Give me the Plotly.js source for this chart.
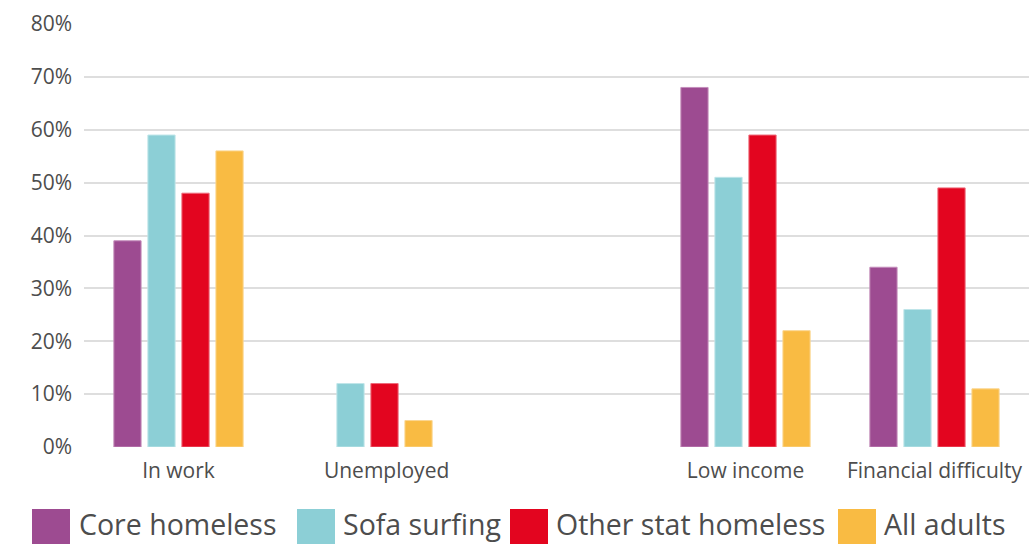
<!DOCTYPE html>
<html>
<head>
<meta charset="utf-8">
<script src="https://cdn.plot.ly/plotly-3.0.1.min.js"></script>
<style>
  html, body { margin: 0; padding: 0; background: #fff; }
  #chart { width: 1032px; height: 544px; }
</style>
</head>
<body>
<div id="chart"></div>
<script>
// Categories (a blank slot separates employment status from income measures)
const categories = ["In work", "Unemployed", "gap", "Low income", "Financial difficulty"];
const tickLabels = ["In work", "\u00a0\u00a0\u00a0\u00a0\u00a0\u00a0\u00a0Unemployed", "", "Low income", "Financial difficulty"];

const seriesNames = ["Core homeless", "Sofa surfing", "Other stat homeless", "All adults"];
const coreHomeless = [39, null, null, 68, 34];
const sofaSurfing = [59, 12, null, 51, 26];
const otherStatHomeless = [48, 12, null, 59, 49];
const allAdults = [56, 5, null, 22, 11];

const yTicks = [0, 10, 20, 30, 40, 50, 60, 70, 80];

const colors = ["#9D4B91", "#8CCFD6", "#E3051F", "#F9BB43"];
const edgeColors = ["#C48DBB", "#BFE5E9", "#EE6B7A", "#FBD690"];
const values = [coreHomeless, sofaSurfing, otherStatHomeless, allAdults];

const FONT = "'Open Sans', Lato, sans-serif";
const TEXT = "#4d4d4d";

const W = 1032, H = 544;
const M = { l: 84, r: 3, t: 24, b: 97 };
const plotW = W - M.l - M.r, plotH = H - M.t - M.b;
const px2x = px => (px - M.l) / plotW;
const py2y = py => (H - M.b - py) / plotH;

const traces = values.map((v, i) => ({
  type: "bar",
  name: seriesNames[i],
  x: categories,
  y: v,
  marker: { color: colors[i], line: { color: edgeColors[i], width: 1 } },
  hoverinfo: "name+y",
  showlegend: false
}));

// Large square legend swatches with labels along the bottom edge
const legendSwatchX = [32, 297, 510, 838];
const legendTextX = [77, 341, 554, 882];
const swatch = 38;
const shapes = [];
const annotations = [];
seriesNames.forEach((name, i) => {
  shapes.push({
    type: "rect", xref: "paper", yref: "paper",
    x0: px2x(legendSwatchX[i]), x1: px2x(legendSwatchX[i] + swatch),
    y0: py2y(509 + swatch), y1: py2y(509),
    fillcolor: colors[i], line: { width: 0 }
  });
  annotations.push({
    xref: "paper", yref: "paper",
    x: px2x(legendTextX[i]), y: py2y(524),
    xanchor: "left", yanchor: "middle",
    text: name, showarrow: false,
    font: { family: FONT, size: 28.5, color: TEXT }
  });
});

const layout = {
  width: W, height: H,
  margin: M,
  paper_bgcolor: "#fff", plot_bgcolor: "#fff",
  barmode: "group",
  bargap: 0.28,
  bargroupgap: 0.2,
  showlegend: false,
  font: { family: FONT, color: TEXT },
  xaxis: {
    type: "category",
    categoryorder: "array",
    categoryarray: categories,
    tickvals: categories,
    ticktext: tickLabels,
    tickfont: { family: FONT, size: 21, color: TEXT },
    ticks: "",
    ticklabelstandoff: 9,
    showgrid: false,
    zeroline: false,
    showline: false,
    fixedrange: true
  },
  yaxis: {
    range: [0, 80],
    tickvals: yTicks,
    ticktext: yTicks.map(t => t + "%"),
    tickfont: { family: FONT, size: 21, color: TEXT },
    ticks: "",
    ticklabelstandoff: 11,
    showgrid: true,
    gridcolor: "#dedede",
    gridwidth: 2,
    zeroline: false,
    showline: false,
    fixedrange: true
  },
  shapes: shapes,
  annotations: annotations
};

Plotly.newPlot("chart", traces, layout, { displayModeBar: false, staticPlot: true });
</script>
</body>
</html>
